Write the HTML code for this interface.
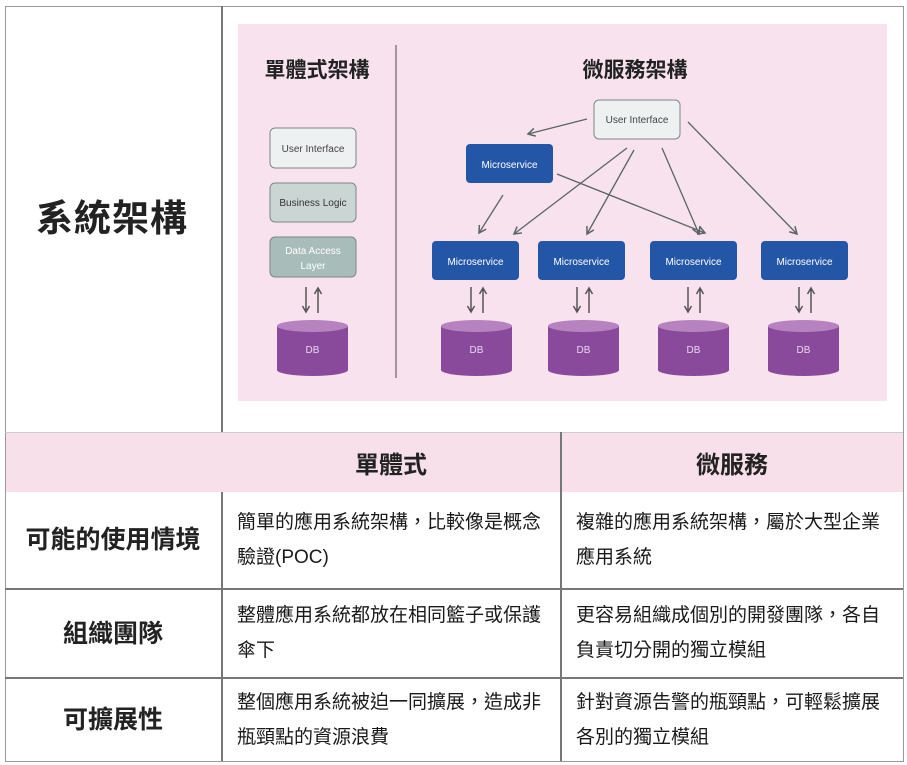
<!DOCTYPE html>
<html><head><meta charset="utf-8"><style>
body{margin:0;width:907px;height:765px;background:#fff;position:relative;overflow:hidden;font-family:"Liberation Sans","Noto Sans CJK TC",sans-serif;color:#222}
.a{position:absolute}
.t{font-size:19px;line-height:35px;color:#1a1a1a;white-space:nowrap}
.l{font-size:25px;font-weight:bold;text-align:center;width:216px;left:5px}
</style></head><body>
<div class="a" style="left:5px;top:6px;width:897px;height:754px;border:1.5px solid #999"></div>
<div class="a" style="left:221px;top:6px;width:1.5px;height:426px;background:#777"></div>
<div class="a" style="left:6px;top:432px;width:897px;height:60px;background:#f8e0ea"></div>
<div class="a" style="left:5px;top:432px;width:898px;height:1px;background:#ccc"></div>
<div class="a" style="left:221px;top:492px;width:1.5px;height:269px;background:#777"></div>
<div class="a" style="left:560px;top:432px;width:1.5px;height:329px;background:#777"></div>
<div class="a" style="left:5px;top:588px;width:898px;height:1.5px;background:#777"></div>
<div class="a" style="left:5px;top:677px;width:898px;height:1.5px;background:#777"></div>
<div class="a" style="left:36px;top:188px;font-size:37px;font-weight:bold;letter-spacing:1px">系統架構</div>
<div class="a" style="left:222px;top:445px;width:338px;text-align:center;font-size:24px;font-weight:bold">單體式</div>
<div class="a" style="left:561px;top:445px;width:342px;text-align:center;font-size:24px;font-weight:bold">微服務</div>
<div class="a l" style="top:520px">可能的使用情境</div>
<div class="a l" style="top:614px">組織團隊</div>
<div class="a l" style="top:700px">可擴展性</div>
<div class="a t" style="left:237px;top:505px">簡單的應用系統架構，比較像是概念<br>驗證(POC)</div>
<div class="a t" style="left:576px;top:505px">複雜的應用系統架構，屬於大型企業<br>應用系統</div>
<div class="a t" style="left:237px;top:598px">整體應用系統都放在相同籃子或保護<br>傘下</div>
<div class="a t" style="left:576px;top:598px">更容易組織成個別的開發團隊，各自<br>負責切分開的獨立模組</div>
<div class="a t" style="left:237px;top:685px">整個應用系統被迫一同擴展，造成非<br>瓶頸點的資源浪費</div>
<div class="a t" style="left:576px;top:685px">針對資源告警的瓶頸點，可輕鬆擴展<br>各別的獨立模組</div>
<svg class="a" style="left:0;top:0" width="907" height="432" font-family="Liberation Sans, sans-serif">
<defs><marker id="m" markerWidth="10" markerHeight="10" refX="8" refY="5" orient="auto" markerUnits="userSpaceOnUse"><path d="M1,1 L8,5 L1,9" fill="none" stroke="#5a6468" stroke-width="1.5"/></marker>
<g id="db"><path d="M0,6 v44 a35.5,6 0 0 0 71,0 v-44" fill="#8a4a9b"/><ellipse cx="35.5" cy="6" rx="35.5" ry="6" fill="#b683c0"/><text x="35.5" y="33" font-size="10" fill="#e8d8ee" text-anchor="middle">DB</text></g>
<g id="ar"><path d="M0,0 v24 M-3.5,19 L0,25 L3.5,19" stroke="#555" stroke-width="1.5" fill="none"/><path d="M12,26 v-24 M8.5,7 L12,1 L15.5,7" stroke="#555" stroke-width="1.5" fill="none"/></g>
<g id="ms"><rect width="87" height="39" rx="4" fill="#2456a8"/><text x="43.5" y="24" font-size="10" fill="#fff" text-anchor="middle">Microservice</text></g>
</defs>
<rect x="238" y="24" width="649" height="377" fill="#f8e2ee"/>
<line x1="396" y1="45" x2="396" y2="378" stroke="#666" stroke-width="1.2"/>
<text x="317" y="77" font-size="21" font-weight="bold" text-anchor="middle" fill="#222" font-family="Liberation Sans, Noto Sans CJK TC, sans-serif">單體式架構</text>
<text x="635" y="77" font-size="21" font-weight="bold" text-anchor="middle" fill="#222" font-family="Liberation Sans, Noto Sans CJK TC, sans-serif">微服務架構</text>
<rect x="270" y="128" width="86" height="40" rx="5" fill="#eef1f1" stroke="#7d8787"/>
<text x="313" y="152" font-size="10" text-anchor="middle" fill="#444">User Interface</text>
<rect x="270" y="183" width="86" height="39" rx="5" fill="#cbd5d4" stroke="#7d8787"/>
<text x="313" y="206" font-size="10" text-anchor="middle" fill="#333">Business Logic</text>
<rect x="270" y="237" width="86" height="40" rx="5" fill="#a8bcb9" stroke="#7d8787"/>
<text x="313" y="254" font-size="10" text-anchor="middle" fill="#fff">Data Access</text>
<text x="313" y="269" font-size="10" text-anchor="middle" fill="#fff">Layer</text>
<use href="#ar" x="306" y="287"/>
<use href="#db" x="277" y="320"/>
<rect x="594" y="100" width="86" height="39" rx="5" fill="#eef1f1" stroke="#7d8787"/>
<text x="637" y="123" font-size="10" text-anchor="middle" fill="#444">User Interface</text>
<use href="#ms" x="466" y="144"/>
<use href="#ms" x="432" y="241"/><use href="#ms" x="538" y="241"/><use href="#ms" x="650" y="241"/><use href="#ms" x="761" y="241"/>
<g stroke="#5a6468" stroke-width="1.3" marker-end="url(#m)">
<line x1="587" y1="119" x2="528" y2="134"/>
<line x1="503" y1="195" x2="479" y2="233"/>
<line x1="627" y1="148" x2="514" y2="234"/>
<line x1="634" y1="150" x2="587" y2="234"/>
<line x1="662" y1="148" x2="699" y2="234"/>
<line x1="688" y1="122" x2="797" y2="234"/>
<line x1="557" y1="174" x2="705" y2="233"/>
</g>
<use href="#ar" x="471" y="287"/><use href="#ar" x="577" y="287"/><use href="#ar" x="688" y="287"/><use href="#ar" x="799" y="287"/>
<use href="#db" x="441" y="320"/><use href="#db" x="548" y="320"/><use href="#db" x="658" y="320"/><use href="#db" x="768" y="320"/>
</svg>
</body></html>
